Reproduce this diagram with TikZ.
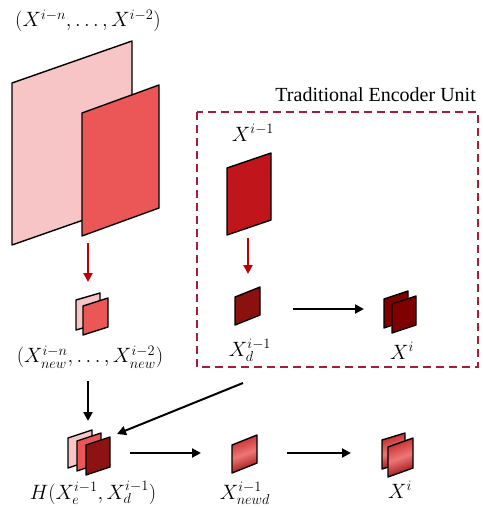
\documentclass[tikz,border=0pt]{standalone}
\usepackage{fontspec}
\setmainfont{Liberation Serif}
\usetikzlibrary{arrows.meta}
\definecolor{pinkc}{HTML}{F8C5C6}
\definecolor{redc}{HTML}{EB5757}
\definecolor{topred}{HTML}{C0151B}
\definecolor{darkd}{HTML}{8B1010}
\definecolor{darkp}{HTML}{7F0000}
\definecolor{tripd}{HTML}{8E1212}
\definecolor{dashc}{HTML}{A51C3C}
\definecolor{arrred}{HTML}{C00000}
\definecolor{gradtop}{HTML}{C42A2A}
\definecolor{gradmid}{HTML}{EE7676}
\definecolor{gradbot}{HTML}{9A0E0E}
\newcommand\sheet[6]{%
  \path[#1] (#2,#3) -- ++(#4,-#6) -- ++(0,#5) -- ++(-#4,#6) -- cycle;}
\tikzset{
  sheetbox/.style={draw=black,line width=1.4pt,line join=round},
  gradbox/.style={sheetbox,top color=gradtop,bottom color=gradbot,middle color=gradmid,shading angle=20},
  blkarrow/.style={line width=2pt,-{Triangle[length=9pt,width=9pt]}},
  redarrow/.style={line width=2pt,draw=arrred,-{Triangle[length=9pt,width=9pt]}},
  lbl/.style={inner sep=0pt,font=\fontsize{21}{24}\selectfont},
}
\begin{document}
\begin{tikzpicture}[x=1pt,y=-1pt]
\useasboundingbox (0,0) rectangle (482,508);
% top left big sheets
\node[lbl] (lblA) at (88,21) {$(X^{i-n},\ldots,X^{i-2})$};
\sheet{sheetbox,fill=pinkc}{12}{83}{120}{162}{42}
\sheet{sheetbox,fill=redc}{82}{113}{77}{123}{28}
\coordinate (a1s) at (88,243);
\coordinate (a1e) at (88,282);
\draw[redarrow] (a1s) -- (a1e);
% small pair
\sheet{sheetbox,fill=pinkc}{76}{300}{24}{30}{7}
\sheet{sheetbox,fill=redc}{83}{306}{25}{29}{8}
\node[lbl] (lblB) at (90,357) {$(X^{i-n}_{new},\ldots,X^{i-2}_{new})$};
\coordinate (a2s) at (88,381);
\coordinate (a2e) at (88,421);
\draw[blkarrow] (a2s) -- (a2e);
% dashed box
\draw[dashc,line width=1.5pt,dash pattern=on 8pt off 5pt] (197,112) rectangle (478,367);
\node[inner sep=0pt,font=\fontsize{20}{23}\selectfont,anchor=east] (title) at (476,95) {Traditional Encoder Unit};
\node[lbl] (lblC) at (253,133) {$X^{i-1}$};
\sheet{sheetbox,fill=topred}{227}{168}{44}{67}{15}
\coordinate (a3s) at (248,238);
\coordinate (a3e) at (248,274);
\draw[redarrow] (a3s) -- (a3e);
\sheet{sheetbox,fill=darkd}{235}{297}{25}{28}{10}
\node[lbl] (lblD) at (250,350) {$X^{i-1}_{d}$};
\coordinate (a4s) at (293,309);
\coordinate (a4e) at (364,309);
\draw[blkarrow] (a4s) -- (a4e);
\sheet{sheetbox,fill=darkp}{384}{299}{24}{29}{8}
\sheet{sheetbox,fill=darkp}{392}{304}{24}{29}{8}
\node[lbl] (lblE) at (402,351) {$X^{i}$};
% diagonal arrow
\coordinate (a5s) at (243,383);
\coordinate (a5e) at (117,434);
\draw[blkarrow] (a5s) -- (a5e);
% bottom triple
\sheet{sheetbox,fill=pinkc}{68}{438}{24}{30}{8}
\sheet{sheetbox,fill=redc}{77}{441}{24}{30}{8}
\sheet{sheetbox,fill=tripd}{86}{445}{24}{30}{8}
\node[lbl] (lblF) at (93,493) {$H(X^{i-1}_{e},X^{i-1}_{d})$};
\coordinate (a6s) at (130,453);
\coordinate (a6e) at (201,453);
\draw[blkarrow] (a6s) -- (a6e);
\sheet{gradbox}{232}{445}{25}{28}{10}
\node[lbl] (lblG) at (245,493) {$X^{i-1}_{newd}$};
\coordinate (a7s) at (287,453);
\coordinate (a7e) at (351,453);
\draw[blkarrow] (a7s) -- (a7e);
\sheet{gradbox}{382}{440}{23}{29}{7}
\sheet{gradbox}{388}{447}{25}{30}{9}
\node[lbl] (lblH) at (400,490) {$X^{i}$};
\end{tikzpicture}
\end{document}
